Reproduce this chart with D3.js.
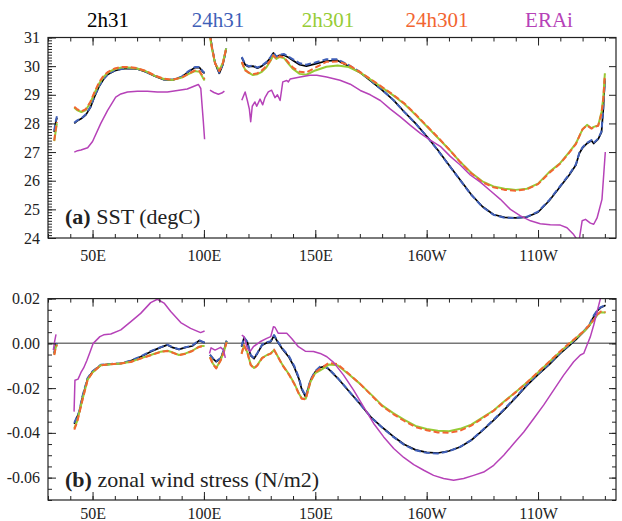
<!DOCTYPE html>
<html>
<head>
<meta charset="UTF-8">
<title>SST and zonal wind stress</title>
<script src="https://cdn.jsdelivr.net/npm/d3@7"></script>
<style>
  body { margin: 0; background: #fff; }
  svg { display: block; }
</style>
</head>
<body>
<div id="chart"></div>
<script>
// ---- data ----
var seriesNames = ["2h31", "24h31", "2h301", "24h301", "ERAi"];
var seriesColors = ["#000000", "#3f5fb8", "#96cc35", "#f26531", "#b642b8"];

// panel (a) SST, model grid (null = land gap)
var lonSst = [32.8, 33.4, 34, 37,
  41.8, 43, 45, 47, 49, 51, 53, 55, 57, 60, 63, 66, 70, 74, 78, 82, 86, 90, 93, 96, 98, 99.5, 100.3, 101.5,
  102.7, 103.5, 105, 106.9, 108.5, 110, 113,
  117, 118.5, 120, 122, 124, 126, 128, 130, 131.2, 132.5, 133.9, 136, 138, 140, 143, 146, 150, 155, 160, 165,
  170, 175, 180, 185, 190, 195, 200, 205, 210, 215, 220, 225, 230, 235, 240, 245, 250, 255, 260, 264,
  267, 268.5, 270, 272, 274, 275, 277, 278.5, 279.3, 280];
var sst2h31 = [27.7, 28.0, 28.2, null,
  28.0, 28.08, 28.17, 28.3, 28.55, 28.95, 29.3, 29.55, 29.72, 29.84, 29.9, 29.92, 29.9, 29.8, 29.65, 29.53, 29.52, 29.62, 29.8, 29.95, 29.95, 29.8, 29.75, null,
  31.15, 30.7, 30.1, 29.75, 30.05, 30.6, null,
  30.3, 30.05, 29.98, 30.0, 29.93, 30.0, 30.12, 30.3, 30.46, 30.3, 30.38, 30.38, 30.3, 30.2, 30.05, 30.0, 30.08, 30.18, 30.2, 30.0,
  29.78, 29.48, 29.16, 28.82, 28.4, 28.0, 27.55, 27.07, 26.55, 26.03, 25.52, 25.1, 24.82, 24.72, 24.7, 24.73, 24.9, 25.3, 25.8, 26.2,
  26.55, 26.95, 27.15, 27.3, 27.4, 27.3, 27.45, 27.7, 28.5, 29.5];
var sst24h31 = [27.75, 28.05, 28.25, null,
  28.02, 28.1, 28.18, 28.32, 28.57, 28.97, 29.32, 29.56, 29.73, 29.85, 29.9, 29.93, 29.91, 29.8, 29.66, 29.54, 29.53, 29.63, 29.82, 29.97, 29.97, 29.82, 29.77, null,
  31.15, 30.72, 30.12, 29.77, 30.07, 30.62, null,
  30.32, 30.07, 30.0, 30.02, 29.95, 30.02, 30.14, 30.32, 30.48, 30.33, 30.4, 30.42, 30.33, 30.24, 30.1, 30.05, 30.13, 30.24, 30.24, 30.04,
  29.8, 29.49, 29.17, 28.82, 28.4, 28.0, 27.55, 27.06, 26.54, 26.02, 25.51, 25.09, 24.81, 24.71, 24.7, 24.74, 24.92, 25.32, 25.82, 26.22,
  26.57, 26.97, 27.17, 27.32, 27.42, 27.32, 27.47, 27.72, 28.55, 29.55];
var sst2h301 = [27.38, 27.7, 28.0, null,
  28.55, 28.47, 28.4, 28.47, 28.72, 29.08, 29.4, 29.63, 29.78, 29.9, 29.95, 29.95, 29.92, 29.82, 29.66, 29.55, 29.52, 29.6, 29.72, 29.83, 29.8, 29.6, 29.5, null,
  31.05, 30.65, 30.1, 29.85, 30.12, 30.62, null,
  30.12, 29.88, 29.77, 29.69, 29.72, 29.8, 29.95, 30.2, 30.38, 30.25, 30.32, 30.28, 30.08, 29.9, 29.73, 29.7, 29.85, 29.98, 30.02, 29.97,
  29.78, 29.52, 29.25, 28.98, 28.68, 28.3, 27.9, 27.5, 27.1, 26.66, 26.28, 25.98, 25.8, 25.72, 25.68, 25.72, 25.9, 26.3, 26.62, 27.0,
  27.3, 27.55, 27.8, 27.95, 27.83, 27.88, 27.93, 28.4, 28.9, 29.75];
var sst24h301 = [27.4, 27.75, 28.05, null,
  28.58, 28.5, 28.42, 28.5, 28.75, 29.12, 29.45, 29.67, 29.8, 29.92, 29.97, 29.97, 29.93, 29.83, 29.67, 29.56, 29.53, 29.6, 29.73, 29.85, 29.83, 29.65, 29.55, null,
  31.1, 30.7, 30.1, 29.83, 30.1, 30.62, null,
  30.15, 29.85, 29.78, 29.72, 29.75, 29.85, 30.0, 30.22, 30.38, 30.25, 30.35, 30.3, 30.12, 29.95, 29.8, 29.78, 29.95, 30.15, 30.16, 30.04,
  29.8, 29.54, 29.27, 29.0, 28.7, 28.32, 27.92, 27.52, 27.1, 26.66, 26.26, 25.95, 25.77, 25.68, 25.65, 25.7, 25.88, 26.27, 26.6, 26.98,
  27.28, 27.55, 27.8, 27.93, 27.82, 27.87, 27.92, 28.35, 28.85, 29.7];

// panel (a) SST, ERA-Interim
var lonSstEra = [41.8, 43.3, 44.8, 47.8, 50, 53.7, 56.7, 60.4, 62.7, 65.7, 70.1, 74.6, 79.1, 83.6, 88.1, 92.5, 95, 97.5, 98.6, 99.1,
  99.7, 100.3, 101.5, 102.7, 104.5, 106.5, 108, 109.2, 113,
  117, 118.5, 119.5, 120.4, 121, 121.7, 122.9, 123.7, 125.2, 126.4, 127.4, 128.9, 130.4, 131.9, 133, 134.2, 135.4, 137.2, 137.9, 138.7,
  143.2, 147.6, 150.7, 155.1, 161.1, 165.7, 170.2, 174.7, 179.2, 183.7, 188.2, 192.7, 197.2, 201.6, 206.1, 210.6, 215.1, 219.6, 224.1,
  228.6, 233.1, 237.6, 242.1, 246.6, 251, 255.5, 260, 263, 266, 268.3, 269.8, 271.3, 273.5, 275, 276.5, 278.7, 280.2];
var sstEra = [27.0, 27.05, 27.07, 27.15, 27.37, 28.0, 28.45, 28.92, 29.03, 29.1, 29.12, 29.12, 29.1, 29.1, 29.15, 29.2, 29.28, 29.36, 29.22, 28.7,
  28.1, 27.45, null, 29.16, 29.08, 29.02, 29.06, 29.13, null,
  28.81, 29.1, 28.8, 28.5, 28.06, 28.6, 28.75, 28.6, 28.85, 28.65, 28.9, 29.1, 29.16, 28.9, 29.0, 28.8, 29.45, 29.5, 29.45, 29.55,
  29.62, 29.68, 29.68, 29.62, 29.51, 29.37, 29.15, 29.0, 28.8, 28.5, 28.23, 27.93, 27.65, 27.42, 27.2, 26.85, 26.55, 26.2, 25.95,
  25.65, 25.35, 25.0, 24.77, 24.6, 24.5, 24.46, 24.45, 24.36, 24.12, 23.85, 24.6, 24.65, 24.52, 24.48, 24.7, 25.35, 27.0];

// panel (b) zonal wind stress, model grid
var lonTau = [32.8, 33.4, 34, 37,
  41.8, 43, 44, 45.5, 47.8, 50, 53.7, 58.2, 62.7, 67.2, 71.6, 76.1, 80.6, 83.6, 85.8, 88.8, 91.8, 94.8, 97.8, 99.3, 100.3, 101.5,
  102.7, 104, 105.5, 107.5, 109, 110.2, 113,
  116.9, 118, 119.5, 121, 122.5, 124, 126.1, 128.3, 130, 131.5, 133, 135.2, 138.2, 140.5, 142.7, 143.9, 145.7, 147.9, 150, 152,
  154, 156, 160, 165, 170, 175, 180, 185, 190, 195, 200, 205, 210, 215, 220, 225, 230, 235, 240, 245,
  250, 255, 260, 264, 267, 269, 271, 273, 275, 276.7, 278.2, 279.7, 280.3];
var tau2h31 = [-0.0045, -0.001, 0.0, null,
  -0.036, -0.033, -0.031, -0.024, -0.0157, -0.0127, -0.0097, -0.0093, -0.009, -0.0078, -0.006, -0.0037, -0.0018, -0.0007, -0.0018, -0.0027, -0.0018, -0.0012, 0.0012, 0.0007, 0.0003, null,
  -0.0052, -0.0068, -0.0082, -0.0068, -0.003, 0.0012, null,
  -0.0015, 0.0025, 0.0005, -0.0055, -0.0068, -0.0045, -0.0008, 0.0003, 0.0008, 0.0035, 0.0008, -0.0025, -0.0062, -0.0105, -0.016, -0.0205, -0.024, -0.0165, -0.0127, -0.0108,
  -0.0104, -0.0115, -0.0155, -0.0213, -0.027, -0.033, -0.0375, -0.0416, -0.0452, -0.0476, -0.0487, -0.049, -0.0481, -0.0463, -0.0433, -0.039, -0.0344, -0.0295, -0.0243, -0.0188,
  -0.014, -0.0095, -0.0045, -0.001, 0.0017, 0.0037, 0.0057, 0.0078, 0.012, 0.0146, 0.016, 0.0167, 0.017];
var tau24h31 = [-0.0045, -0.001, 0.0, null,
  -0.0355, -0.0328, -0.0305, -0.0235, -0.0155, -0.0125, -0.0096, -0.0092, -0.0089, -0.0077, -0.0058, -0.0035, -0.0017, -0.0006, -0.0017, -0.0026, -0.0017, -0.001, 0.0014, 0.0008, 0.0004, null,
  -0.005, -0.0066, -0.008, -0.0066, -0.0028, 0.0013, null,
  -0.0013, 0.0027, 0.0007, -0.0052, -0.0066, -0.0043, -0.0006, 0.0005, 0.001, 0.0037, 0.001, -0.0022, -0.0058, -0.01, -0.0155, -0.02, -0.0236, -0.0162, -0.0124, -0.0105,
  -0.0102, -0.0113, -0.0154, -0.0212, -0.027, -0.033, -0.0376, -0.0418, -0.0454, -0.0478, -0.0489, -0.0492, -0.0482, -0.0463, -0.0432, -0.0388, -0.0342, -0.0292, -0.024, -0.0185,
  -0.0137, -0.0092, -0.0042, -0.0007, 0.002, 0.004, 0.006, 0.0082, 0.0124, 0.015, 0.0162, 0.0168, 0.017];
var tau2h301 = [-0.005, -0.002, -0.0005, null,
  -0.038, -0.035, -0.031, -0.025, -0.0162, -0.013, -0.0098, -0.0093, -0.009, -0.0082, -0.0067, -0.0052, -0.0037, -0.0033, -0.004, -0.0052, -0.0045, -0.0033, -0.0015, -0.0012, -0.0012, null,
  -0.006, -0.009, -0.011, -0.0075, -0.0035, 0.0007, null,
  -0.0045, -0.001, -0.004, -0.0095, -0.011, -0.0097, -0.0065, -0.0052, -0.0045, -0.003, -0.0055, -0.0095, -0.0138, -0.0178, -0.0225, -0.0245, -0.0248, -0.017, -0.0133, -0.0122,
  -0.011, -0.0095, -0.0098, -0.0138, -0.018, -0.0228, -0.0277, -0.0312, -0.0342, -0.0369, -0.0383, -0.0391, -0.0393, -0.0382, -0.0363, -0.0332, -0.03, -0.0258, -0.0217, -0.0175,
  -0.013, -0.0083, -0.0037, -0.0002, 0.0023, 0.004, 0.0057, 0.008, 0.0104, 0.0128, 0.0139, 0.0138, 0.0136];
var tau24h301 = [-0.0052, -0.0022, -0.0007, null,
  -0.0385, -0.0355, -0.0315, -0.0252, -0.0163, -0.013, -0.0098, -0.0093, -0.009, -0.0083, -0.0068, -0.0053, -0.0038, -0.0034, -0.0041, -0.0053, -0.0046, -0.0034, -0.0016, -0.0013, -0.0013, null,
  -0.0062, -0.0092, -0.0112, -0.0077, -0.0037, 0.0005, null,
  -0.0047, -0.0008, -0.0042, -0.0097, -0.0112, -0.0099, -0.0066, -0.0053, -0.0046, -0.0028, -0.0056, -0.0097, -0.014, -0.018, -0.0227, -0.0248, -0.025, -0.0168, -0.013, -0.0115,
  -0.0102, -0.0088, -0.0093, -0.0136, -0.018, -0.023, -0.028, -0.0316, -0.0347, -0.0374, -0.0388, -0.0398, -0.04, -0.039, -0.0368, -0.0335, -0.0302, -0.026, -0.0218, -0.0175,
  -0.0128, -0.0082, -0.0035, 0.0, 0.0025, 0.0042, 0.0059, 0.0082, 0.0106, 0.013, 0.0142, 0.014, 0.014];

// panel (b) zonal wind stress, ERA-Interim
var lonTauEra = [32.4, 33.0, 33.6, 37,
  41.7, 42.1, 43.5, 44.8, 46, 47.4, 49, 50.3, 53.3, 55, 58.2, 62.7, 67.2, 71.6, 76.1, 79.1, 82.1, 85.1, 89.6, 94, 98.5, 100.3, 101.5,
  102.5, 103.2, 105, 107.5, 108.8, 109.6, 113,
  117, 118, 119.5, 120.7, 122.2, 125.2, 128.2, 130, 131.2, 131.9, 133.4, 137.2, 139.4, 142.4, 145.5, 149.2, 152.2, 155.2, 158.2,
  162.7, 167.2, 171.7, 176.2, 180.7, 185.2, 189.7, 194.2, 198.7, 203.1, 207.6, 212.1, 216.6, 221.1, 225.6, 230.1, 234.6, 239.1,
  243.6, 248.1, 252.5, 257, 261.5, 266, 269, 270.5, 272, 273.5, 275, 276.5, 278, 278.7];
var tauEra = [-0.003, 0.001, 0.004, null,
  -0.0305, -0.0165, -0.016, -0.013, -0.011, -0.0078, -0.0035, 0.0, 0.003, 0.0038, 0.0042, 0.006, 0.0097, 0.0134, 0.0182, 0.0197, 0.018, 0.0142, 0.0093, 0.0067, 0.0048, 0.0055, null,
  -0.0045, -0.002, -0.003, -0.0018, -0.003, -0.0065, null,
  0.0037, 0.003, -0.0022, -0.0037, -0.0015, 0.0007, 0.0022, 0.003, 0.0074, 0.0072, 0.0045, 0.0045, 0.0022, -0.0015, -0.0035, -0.0036, -0.0045, -0.006, -0.0085,
  -0.0142, -0.0209, -0.0284, -0.0358, -0.0418, -0.047, -0.051, -0.0542, -0.0567, -0.059, -0.0604, -0.0612, -0.0604, -0.059, -0.0575, -0.0545, -0.05, -0.0448,
  -0.0396, -0.0336, -0.0276, -0.0209, -0.0142, -0.0082, -0.0052, -0.0045, -0.0007, 0.003, 0.0082, 0.0142, 0.02, 0.0225];

// axis ticks
var lonMajor = [50, 100, 150, 200, 250];
var lonMinor = d3.range(30, 285, 10);
var sstMajor = [24, 25, 26, 27, 28, 29, 30, 31];
var tauMajor = [-0.06, -0.04, -0.02, 0.00, 0.02];

// ---- chart ----
var serif = "Liberation Serif, Times New Roman, Tinos, DejaVu Serif, serif";
var width = 622, height = 521;
var svg = d3.select("#chart").append("svg")
    .attr("width", width)
    .attr("height", height)
    .attr("font-family", serif);

var x = d3.scaleLinear().domain([30, 285]).range([48, 616]);
var lonFormat = function(d) { return d <= 180 ? d + "E" : (360 - d) + "W"; };

function zip(lon, vals) {
    return lon.map(function(l, i) { return [l, vals[i]]; });
}

var panels = [
    {
        id: "a",
        y: d3.scaleLinear().domain([24, 31]).range([238, 37.5]),
        major: sstMajor,
        minor: d3.range(240, 311, 1).map(function(d) { return d / 10; }),
        rightMinor: false,
        fmt: function(d) { return d; },
        label: ["(a)", " SST (degC)"],
        labelY: 224,
        xPad: 12,
        models: [zip(lonSst, sst2h31), zip(lonSst, sst24h31), zip(lonSst, sst2h301), zip(lonSst, sst24h301)],
        era: zip(lonSstEra, sstEra),
        zero: false
    },
    {
        id: "b",
        y: d3.scaleLinear().domain([-0.07, 0.02]).range([500, 298.6]),
        major: tauMajor,
        minor: d3.range(-70, 21, 5).map(function(d) { return d / 1000; }),
        rightMinor: true,
        fmt: function(d) { return d.toFixed(2); },
        label: ["(b)", " zonal wind stress (N/m2)"],
        labelY: 487,
        xPad: 8,
        models: [zip(lonTau, tau2h31), zip(lonTau, tau24h31), zip(lonTau, tau2h301), zip(lonTau, tau24h301)],
        era: zip(lonTauEra, tauEra),
        zero: true
    }
];

var styles = [
    {w: 1.7, dash: null},
    {w: 2, dash: "6,3"},
    {w: 2, dash: null},
    {w: 2, dash: "6,3"},
    {w: 1.5, dash: null}
];

panels.forEach(function(p) {
    var y = p.y;
    var y0 = y.range()[0], y1 = y.range()[1];
    var g = svg.append("g");

    g.append("clipPath").attr("id", "clip-" + p.id)
      .append("rect")
        .attr("x", x.range()[0]).attr("y", y1)
        .attr("width", x.range()[1] - x.range()[0]).attr("height", y0 - y1);

    if (p.zero) {
        g.append("line")
            .attr("x1", x.range()[0]).attr("x2", x.range()[1])
            .attr("y1", y(0)).attr("y2", y(0))
            .style("stroke", "#777")
            .style("stroke-width", 1.5);
    }

    var line = d3.line()
        .defined(function(d) { return d[1] !== null; })
        .x(function(d) { return x(d[0]); })
        .y(function(d) { return y(d[1]); });

    var all = p.models.concat([p.era]);
    var lines = g.append("g").attr("clip-path", "url(#clip-" + p.id + ")");
    all.forEach(function(data, i) {
        lines.append("path")
            .datum(data)
            .attr("d", line)
            .style("fill", "none")
            .style("stroke", seriesColors[i])
            .style("stroke-width", styles[i].w)
            .style("stroke-dasharray", styles[i].dash)
            .style("stroke-linejoin", "round");
    });

    // bottom axis with labels
    g.append("g")
        .attr("transform", "translate(0," + y0 + ")")
        .call(d3.axisBottom(x).tickValues(lonMinor).tickSize(-4).tickFormat(""))
        .call(function(a) { a.select(".domain").remove(); });
    g.append("g")
        .attr("transform", "translate(0," + y0 + ")")
        .call(d3.axisBottom(x).tickValues(lonMajor).tickSize(-8).tickPadding(p.xPad).tickFormat(lonFormat))
        .call(function(a) { a.select(".domain").remove(); });

    // top axis
    g.append("g")
        .attr("transform", "translate(0," + y1 + ")")
        .call(d3.axisTop(x).tickValues(lonMinor).tickSize(-4).tickFormat(""))
        .call(function(a) { a.select(".domain").remove(); });
    g.append("g")
        .attr("transform", "translate(0," + y1 + ")")
        .call(d3.axisTop(x).tickValues(lonMajor).tickSize(-8).tickFormat(""))
        .call(function(a) { a.select(".domain").remove(); });

    // left axis
    g.append("g")
        .attr("transform", "translate(" + x.range()[0] + ",0)")
        .call(d3.axisLeft(y).tickValues(p.minor).tickSize(-4).tickFormat(""))
        .call(function(a) { a.select(".domain").remove(); });
    g.append("g")
        .attr("transform", "translate(" + x.range()[0] + ",0)")
        .call(d3.axisLeft(y).tickValues(p.major).tickSize(-8).tickPadding(8).tickFormat(p.fmt))
        .call(function(a) { a.select(".domain").remove(); });

    // right axis
    if (p.rightMinor) {
        g.append("g")
            .attr("transform", "translate(" + x.range()[1] + ",0)")
            .call(d3.axisRight(y).tickValues(p.minor).tickSize(-4).tickFormat(""))
            .call(function(a) { a.select(".domain").remove(); });
    }
    g.append("g")
        .attr("transform", "translate(" + x.range()[1] + ",0)")
        .call(d3.axisRight(y).tickValues(p.major).tickSize(-7).tickFormat(""))
        .call(function(a) { a.select(".domain").remove(); });

    g.selectAll("g").attr("font-family", serif);
    g.selectAll(".tick text")
        .attr("font-family", serif)
        .attr("font-size", 16)
        .attr("fill", "#222");
    g.selectAll(".tick line").attr("stroke", "#222");

    // frame
    g.append("rect")
        .attr("x", x.range()[0]).attr("y", y1)
        .attr("width", x.range()[1] - x.range()[0]).attr("height", y0 - y1)
        .style("fill", "none")
        .style("stroke", "#222")
        .style("stroke-width", 1.2);

    // panel label
    var t = g.append("text")
        .attr("x", 65).attr("y", p.labelY)
        .attr("font-family", serif)
        .attr("font-size", 22)
        .attr("fill", "#222");
    t.append("tspan").attr("font-weight", "bold").text(p.label[0]);
    t.append("tspan").text(p.label[1]);
});

// legend
var legendX = [108, 218, 328, 437, 549];
svg.append("g").selectAll("text")
    .data(seriesNames)
    .enter()
    .append("text")
    .attr("x", function(d, i) { return legendX[i]; })
    .attr("y", 27)
    .attr("text-anchor", "middle")
    .attr("font-family", serif)
    .attr("font-size", 21)
    .attr("fill", function(d, i) { return seriesColors[i]; })
    .text(function(d) { return d; });
</script>
</body>
</html>
